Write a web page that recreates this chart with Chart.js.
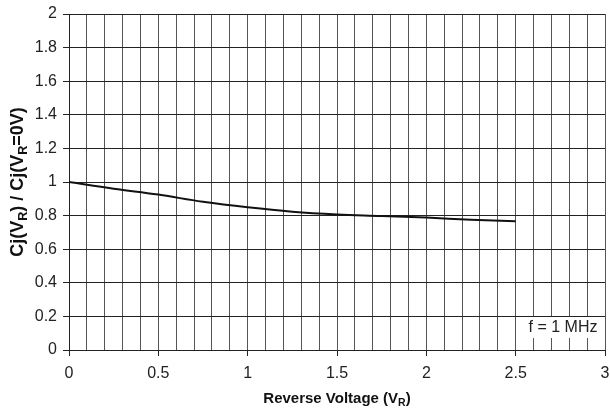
<!DOCTYPE html>
<html>
<head>
<meta charset="utf-8">
<title>Cj(VR) / Cj(VR=0V)</title>
<script src="https://cdn.jsdelivr.net/npm/chart.js@4"></script>
<style>
    body { margin: 0; background: #fff; }
    canvas { display: block; }
</style>
</head>
<body>
<canvas id="capChart" width="610" height="410"></canvas>
<script>
// values
const voltage = [0, 0.25, 0.5, 0.75, 1.0, 1.25, 1.5, 1.75, 2.0, 2.25, 2.5];
const ratio = [1.0, 0.96, 0.925, 0.882, 0.849, 0.823, 0.807, 0.798, 0.788, 0.776, 0.767];
const xTickLabels = ["0", "0.5", "1", "1.5", "2", "2.5", "3"];
const yTickLabels = ["0", "0.2", "0.4", "0.6", "0.8", "1", "1.2", "1.4", "1.6", "1.8", "2"];
const noteText = "f = 1 MHz";

const FONT = "Arial, 'Liberation Sans', sans-serif";

function isHalf(v) {
    return Math.abs(v * 2 - Math.round(v * 2)) < 1e-6;
}

// draw text with subscript pieces, centred on (x, y)
function drawRich(ctx, parts, x, y, size) {
    let total = 0;
    parts.forEach(p => {
        ctx.font = "bold " + (p.sub ? size * 0.7 : size) + "px " + FONT;
        p.w = ctx.measureText(p.t).width;
        total += p.w;
    });
    let cx = x - total / 2;
    ctx.textBaseline = "middle";
    ctx.textAlign = "left";
    parts.forEach(p => {
        ctx.font = "bold " + (p.sub ? size * 0.7 : size) + "px " + FONT;
        ctx.fillText(p.t, cx, p.sub ? y + size * 0.3 : y);
        cx += p.w;
    });
}

const labelsPlugin = {
    id: "labelsPlugin",
    afterDraw(chart) {
        const ctx = chart.ctx;
        const area = chart.chartArea;
        ctx.save();
        ctx.fillStyle = "#111";

        // x axis title
        drawRich(ctx, [
            { t: "Reverse Voltage (V" }, { t: "R", sub: true }, { t: ")" }
        ], (area.left + area.right) / 2, 399, 15);

        // y axis title
        ctx.translate(18, (area.top + area.bottom) / 2);
        ctx.rotate(-Math.PI / 2);
        drawRich(ctx, [
            { t: "Cj(V" }, { t: "R", sub: true }, { t: ") / Cj(V" },
            { t: "R", sub: true }, { t: "=0V)" }
        ], 0, 0, 18);
        ctx.restore();

        // frequency note box
        ctx.save();
        ctx.fillStyle = "#fff";
        ctx.fillRect(522, 317, area.right - 523, 21);
        ctx.fillStyle = "#222";
        ctx.font = "16px " + FONT;
        ctx.textAlign = "center";
        ctx.textBaseline = "middle";
        ctx.fillText(noteText, 563, 328);
        ctx.restore();
    }
};

const ctx = document.getElementById("capChart").getContext("2d");

new Chart(ctx, {
    type: "line",
    data: {
        datasets: [{
            data: voltage.map((v, i) => ({ x: v, y: ratio[i] })),
            borderColor: "#111",
            borderWidth: 2,
            pointRadius: 0,
            tension: 0.4,
            fill: false
        }]
    },
    options: {
        responsive: false,
        animation: false,
        layout: { padding: { top: 14, right: 5 } },
        plugins: {
            legend: { display: false },
            tooltip: { enabled: false }
        },
        scales: {
            x: {
                type: "linear",
                min: 0,
                max: 3,
                afterFit(scale) {
                    scale.height = 60;
                    scale.paddingLeft = 0;
                    scale.paddingRight = 0;
                },
                ticks: {
                    stepSize: 0.1,
                    autoSkip: false,
                    maxRotation: 0,
                    padding: 8,
                    color: "#222",
                    font: { family: FONT, size: 16 },
                    callback(v) {
                        if (!isHalf(v)) return "";
                        return xTickLabels[Math.round(v * 2)];
                    }
                },
                grid: {
                    color: "#555",
                    lineWidth: 1,
                    tickLength: 6,
                    tickColor: c => isHalf(c.tick.value) ? "#222" : "rgba(0,0,0,0)"
                },
                border: { color: "#222" }
            },
            y: {
                min: 0,
                max: 2,
                afterFit(scale) {
                    scale.width = 69;
                    scale.paddingTop = 0;
                    scale.paddingBottom = 0;
                },
                ticks: {
                    stepSize: 0.2,
                    padding: 6,
                    color: "#222",
                    font: { family: FONT, size: 16 },
                    callback(v) {
                        return yTickLabels[Math.round(v * 5)];
                    }
                },
                grid: {
                    color: "#222",
                    lineWidth: 1,
                    tickLength: 6,
                    tickColor: "#222"
                },
                border: { color: "#222" }
            }
        }
    },
    plugins: [labelsPlugin]
});
</script>
</body>
</html>
